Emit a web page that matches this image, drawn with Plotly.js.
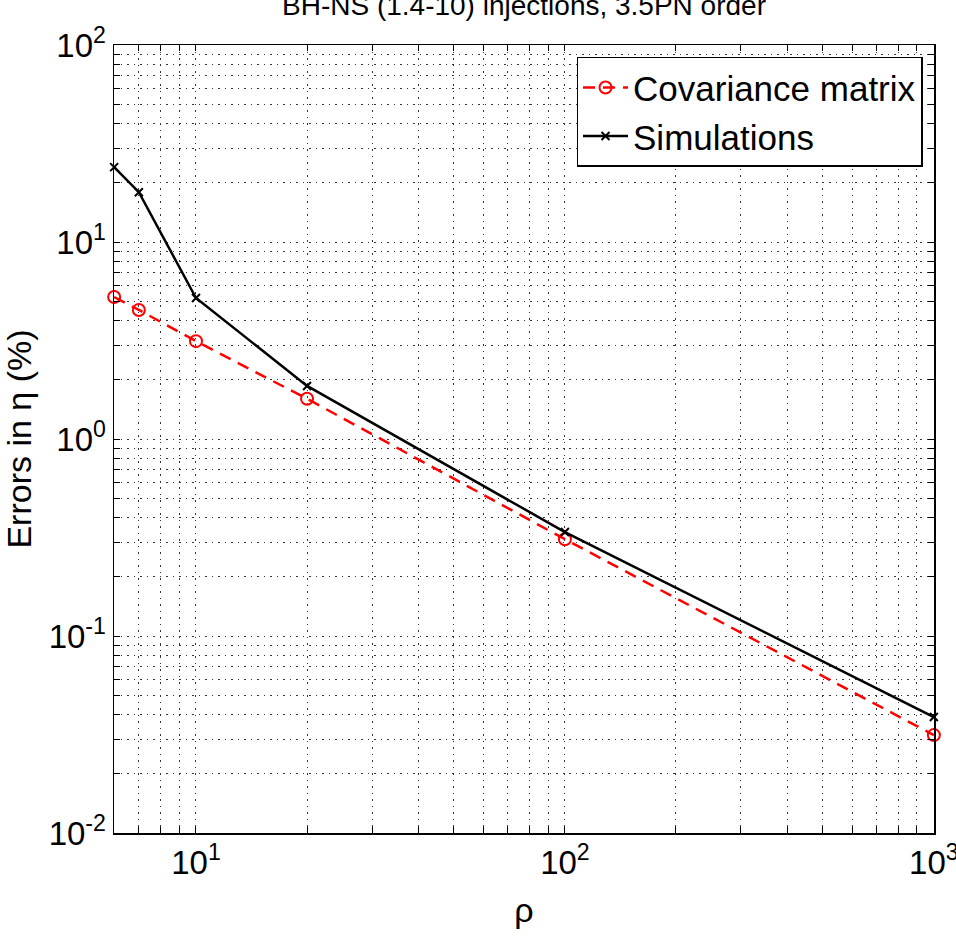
<!DOCTYPE html>
<html>
<head>
<meta charset="utf-8">
<script src="https://cdn.plot.ly/plotly-3.0.1.min.js"></script>
<style>html,body{margin:0;padding:0;background:#fff;}#chart{width:956px;height:938px;}</style>
</head>
<body>
<div id="chart"></div>
<script>
// Data
var rho = [6, 7, 10, 20, 100, 1000];
var covarianceErr = [5.26, 4.52, 3.14, 1.60, 0.31, 0.0314];
var simulationErr = [24.0, 17.9, 5.2, 1.86, 0.337, 0.0388];
var seriesNames = ['Covariance matrix', 'Simulations'];
var titleText = 'BH-NS (1.4-10) injections, 3.5PN order';
var xTitle = 'ρ';
var yTitle = 'Errors in η (%)';

function logTicks(lo, hi, minExp, maxExp) {
  var vals = [], txt = [];
  for (var e = minExp; e <= maxExp; e++) {
    for (var m = 1; m <= 9; m++) {
      var v = m * Math.pow(10, e);
      if (v < lo * 0.999 || v > hi * 1.001) continue;
      vals.push(v);
      txt.push(m === 1 ? '10<sup>' + (e < 0 ? '-' + (-e) : e) + '</sup>' : '');
    }
  }
  return {vals: vals, txt: txt};
}
var xt = logTicks(6, 1000, 0, 3);
var yt = logTicks(0.01, 100, -2, 2);

var FONT = '"Liberation Sans Narrow", "Liberation Sans", Arial, sans-serif';

var traces = [
  {x: rho, y: covarianceErr, name: seriesNames[0], type: 'scatter', mode: 'lines+markers',
   cliponaxis: false,
   line: {color: '#ff0000', width: 2.5, dash: '12px,8px'},
   marker: {symbol: 'circle-open', size: 12, color: '#ff0000', line: {width: 2, color: '#ff0000'}}},
  {x: rho, y: simulationErr, name: seriesNames[1], type: 'scatter', mode: 'lines+markers',
   cliponaxis: false,
   line: {color: '#000000', width: 2.5},
   marker: {symbol: 'x-thin-open', size: 8, color: '#000000', line: {width: 2, color: '#000000'}}}
];

var axisCommon = {
  type: 'log', showline: true, linecolor: '#000', linewidth: 1.5, mirror: 'ticks',
  ticks: 'inside', ticklen: 6, tickcolor: '#000', tickwidth: 1,
  showgrid: true, gridcolor: '#333', gridwidth: 1, griddash: '1.5px,5px',
  zeroline: false, tickmode: 'array', ticklabeloverflow: 'allow',
  tickfont: {family: FONT, size: 33, color: '#000'}
};

var layout = {
  width: 956, height: 938,
  paper_bgcolor: '#fff', plot_bgcolor: '#fff',
  margin: {l: 114, r: 22, t: 45, b: 105},
  font: {family: FONT, color: '#000'},
  title: {text: titleText, font: {family: FONT, size: 28, color: '#000'},
          x: 0.5, xanchor: 'center', xref: 'paper', y: 0.995, yanchor: 'middle', yref: 'container'},
  xaxis: Object.assign({}, axisCommon, {
    range: [Math.log10(6) - 0.0004, 3.0004], tickvals: xt.vals, ticktext: xt.txt,
    title: {text: xTitle, font: {family: FONT, size: 34, color: '#000'}, standoff: 18}
  }),
  yaxis: Object.assign({}, axisCommon, {
    range: [-2, 2.0002], tickvals: yt.vals, ticktext: yt.txt,
    title: {text: yTitle, font: {family: FONT, size: 34, color: '#000'}, standoff: 18}
  }),
  legend: {x: 0.986, y: 0.985, xanchor: 'right', yanchor: 'top',
           bgcolor: '#fff', bordercolor: '#000', borderwidth: 1.5, itemwidth: 45,
           font: {family: FONT, size: 35, color: '#000'}, tracegroupgap: 0},
  showlegend: true
};

Plotly.newPlot('chart', traces, layout, {displayModeBar: false, staticPlot: true});
</script>
</body>
</html>
